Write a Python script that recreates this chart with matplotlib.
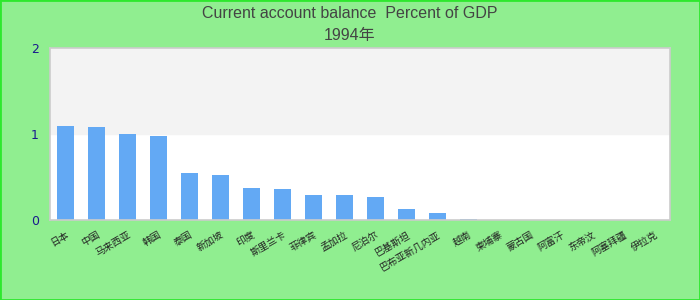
"""
Current account balance (percent of GDP), 1994 - bar chart with banded background.
"""

import matplotlib
matplotlib.use("Agg")
import matplotlib.pyplot as plt
from matplotlib.patches import Rectangle

# ---------------------------------------------------------------------------
# Data
# ---------------------------------------------------------------------------

countries = [
    "日本", "中国", "马来西亚", "韩国", "泰国", "新加坡", "印度",
    "斯里兰卡", "菲律宾", "孟加拉", "尼泊尔", "巴基斯坦",
    "巴布亚新几内亚", "越南", "柬埔寨", "蒙古国", "阿富汗", "东帝汶",
    "阿塞拜疆", "伊拉克",
]
balance = [
    1.09, 1.08, 1.00, 0.98, 0.55, 0.52, 0.37,
    0.36, 0.29, 0.29, 0.27, 0.13,
    0.08, 0.012, 0.0, 0.0, 0.0, 0.0,
    0.0, 0.0,
]
y_ticks = [0, 1, 2]
title = "Current account balance  Percent of GDP\n1994年"

# ---------------------------------------------------------------------------
# Plot
# ---------------------------------------------------------------------------

fig = plt.figure(figsize=(7, 3), dpi=100, facecolor="#90ee90")
ax = fig.add_axes([0.0714, 0.2667, 0.8857, 0.5733])
ax.set_facecolor("white")

# alternating bands between grid lines
ax.axhspan(1, 2, color="#f3f3f3", zorder=0)

x = range(len(countries))
ax.bar(x, balance, width=0.55, color="#63a9f4", zorder=2)

ax.set_xlim(-0.5, len(countries) - 0.5)
ax.set_ylim(0, 2)
ax.set_yticks(y_ticks)
ax.set_yticklabels([str(t) for t in y_ticks], color="#1a1a8c",
                   fontsize=9, family="DejaVu Sans")
ax.set_xticks(list(x))
ax.set_xticklabels(countries, rotation=30, ha="right",
                   rotation_mode="anchor", fontsize=7,
                   family=["Noto Sans CJK SC", "DejaVu Sans"],
                   color="#222222")
ax.tick_params(axis="y", length=0, pad=8)
ax.tick_params(axis="x", length=0, pad=7)

for s in ax.spines.values():
    s.set_color("#cccccc")
    s.set_linewidth(1.2)

fig.text(0.5, 0.98, title, ha="center", va="top", fontsize=11.5,
         family=["Liberation Sans", "Noto Sans CJK SC"], color="#444444",
         linespacing=1.6)

# figure border
fig.patches.append(Rectangle((0, 0), 1, 1, transform=fig.transFigure,
                             fill=False, edgecolor="#2ee82e", linewidth=2))

fig.savefig("out.png", dpi=100, facecolor=fig.get_facecolor())
plt.close(fig)
